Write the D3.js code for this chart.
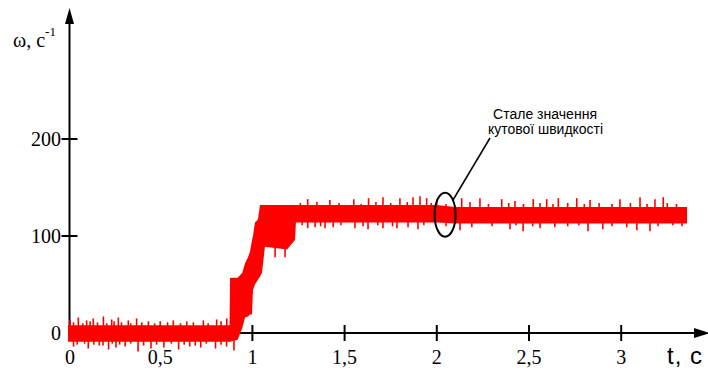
<!DOCTYPE html>
<html>
<head>
<meta charset="utf-8">
<script src="https://cdn.jsdelivr.net/npm/d3@7"></script>
<style>
  body { margin: 0; background: #fff; }
  svg { display: block; }
  .tick-label { font-family: "Liberation Serif", "Times New Roman", serif; font-size: 20px; fill: #000; }
</style>
</head>
<body>
<div id="chart"></div>
<script>
// tick values
const xTicks = [0, 0.5, 1, 1.5, 2, 2.5, 3];
const xTickLabels = ['0', '0,5', '1', '1,5', '2', '2,5', '3'];
const yTicks = [0, 100, 200];
const yTickLabels = ['0', '100', '200'];

// band of the noisy speed signal: time (s), upper and lower edge (1/s)
const envT  = [0, 0.876, 0.879, 0.92, 0.945, 0.96, 0.976, 0.987, 0.998, 1.003, 1.014, 1.030, 1.041, 1.052, 1.068, 1.188, 1.231, 1.236, 2.0, 2.1, 3.357];
const envHi = [8, 8, 57, 57, 62, 72, 78, 84, 96, 100, 114, 117, 132, 132, 132, 132, 132, 132, 132, 130, 130];
const envLo = [-9, -9, -9, -7, 5, 16, 17, 19, 19, 44, 50, 55, 58, 62, 89, 86, 96, 114, 114, 113, 113];

// spikes sticking out of the band (time, tip value)
const lowUpT = [0.011, 0.056, 0.101, 0.137, 0.192, 0.237, 0.273, 0.327, 0.372, 0.436, 0.50, 0.571, 0.644, 0.734, 0.806, 0.861,
  0.03, 0.08, 0.12, 0.16, 0.21, 0.25, 0.29, 0.34, 0.40, 0.47, 0.54, 0.61, 0.68, 0.76, 0.83];
const lowUpV = [14, 16, 13, 15, 17, 14, 16, 13, 15, 12, 12, 13, 12, 13, 14, 15,
  11, 10, 12, 11, 10, 12, 11, 10, 11, 10, 11, 10, 11, 10, 12];
const lowDnT = [0.03, 0.11, 0.17, 0.22, 0.26, 0.31, 0.38, 0.45, 0.52, 0.60, 0.66, 0.72, 0.80, 0.86, 0.90,
  0.05, 0.09, 0.14, 0.19, 0.24, 0.28, 0.34, 0.41, 0.48, 0.56, 0.63, 0.69, 0.75, 0.83];
const lowDnV = [-14, -16, -13, -17, -15, -14, -19, -16, -15, -17, -14, -15, -16, -14, -18,
  -12, -11, -12, -13, -11, -12, -11, -13, -12, -11, -12, -13, -11, -12];
const hiUpT = [1.30, 1.42, 1.55, 1.63, 1.708, 1.80, 1.871, 1.909, 1.945, 2.00, 2.135, 2.234, 2.352, 2.424, 2.523, 2.596, 2.659, 2.759, 2.831, 2.993, 3.102, 3.183, 3.228,
  1.26, 1.35, 1.47, 1.59, 1.67, 1.75, 1.84, 1.97, 2.05, 2.18, 2.28, 2.39, 2.47, 2.56, 2.63, 2.71, 2.80, 2.88, 2.95, 3.05, 3.14, 3.25, 3.30];
const hiUpV = [138, 137, 138, 139, 140, 139, 140, 141, 139, 138, 139, 139, 138, 136, 138, 138, 139, 139, 137, 138, 140, 138, 140,
  134, 135, 134, 133, 135, 134, 135, 134, 133, 135, 133, 134, 133, 134, 133, 134, 133, 134, 133, 134, 133, 134, 133];
const hiDnT = [1.123, 1.177, 1.30, 1.34, 1.394, 1.438, 1.556, 1.627, 1.708, 1.784, 1.844, 1.898, 2.126, 2.397, 2.468, 2.56, 2.82, 2.90, 3.085, 3.156,
  1.27, 1.37, 1.48, 1.60, 1.68, 1.76, 1.93, 2.05, 2.19, 2.30, 2.43, 2.52, 2.64, 2.71, 2.77, 2.95, 3.03, 3.20, 3.28, 3.33];
const hiDnV = [78, 78, 108, 109, 108, 109, 108, 107, 108, 108, 109, 107, 106, 107, 105, 108, 105, 107, 106, 105,
  111, 110, 111, 110, 111, 110, 111, 110, 109, 110, 111, 110, 109, 110, 111, 110, 109, 110, 111, 110];

const width = 708;
const height = 372;

const x = d3.scaleLinear().domain([0, 3]).range([68, 621.2]);
const y = d3.scaleLinear().domain([0, 200]).range([333, 139]);

const svg = d3.select('#chart').append('svg')
  .attr('width', width)
  .attr('height', height);

// axes
const axisColor = '#000';
svg.append('line')
  .attr('x1', x(0)).attr('x2', 700)
  .attr('y1', y(0)).attr('y2', y(0))
  .attr('stroke', axisColor).attr('stroke-width', 2);
svg.append('path')
  .attr('d', 'M694,' + (y(0) - 5) + 'L710,' + y(0) + 'L694,' + (y(0) + 5) + 'Z')
  .attr('fill', axisColor);

const yAxisX = x(0) + 1.5;
svg.append('line')
  .attr('x1', yAxisX).attr('x2', yAxisX)
  .attr('y1', y(0)).attr('y2', 20)
  .attr('stroke', axisColor).attr('stroke-width', 2);
svg.append('path')
  .attr('d', 'M' + (yAxisX - 4.5) + ',24L' + yAxisX + ',8L' + (yAxisX + 4.5) + ',24Z')
  .attr('fill', axisColor);

// x ticks
svg.append('g').selectAll('line')
  .data(xTicks.slice(1))
  .enter().append('line')
  .attr('x1', d => x(d)).attr('x2', d => x(d))
  .attr('y1', y(0) - 8).attr('y2', y(0) + 8)
  .attr('stroke', axisColor).attr('stroke-width', 2);
svg.append('g').selectAll('text')
  .data(xTicks)
  .enter().append('text')
  .attr('class', 'tick-label')
  .attr('x', d => x(d) + (d === 0 ? 2 : 0))
  .attr('y', 364)
  .attr('text-anchor', 'middle')
  .text((d, i) => xTickLabels[i]);

// y ticks
svg.append('g').selectAll('line')
  .data(yTicks.slice(1))
  .enter().append('line')
  .attr('x1', yAxisX - 8).attr('x2', yAxisX + 8)
  .attr('y1', d => y(d)).attr('y2', d => y(d))
  .attr('stroke', axisColor).attr('stroke-width', 2);
svg.append('g').selectAll('text')
  .data(yTicks)
  .enter().append('text')
  .attr('class', 'tick-label')
  .attr('x', 61)
  .attr('y', d => y(d) + 7)
  .attr('text-anchor', 'end')
  .text((d, i) => yTickLabels[i]);

// signal band, drawn over the axes like in the original plot
const band = envT.map((t, i) => ({ t: t, hi: envHi[i], lo: envLo[i] }));
const area = d3.area()
  .x(d => x(d.t))
  .y0(d => y(d.lo))
  .y1(d => y(d.hi));
svg.append('path')
  .datum(band)
  .attr('d', area)
  .attr('fill', '#ff0000');

function drawSpikes(ts, vs, base) {
  svg.append('g').selectAll('line')
    .data(ts.map((t, i) => ({ t: t, v: vs[i] })))
    .enter().append('line')
    .attr('x1', d => x(d.t))
    .attr('x2', d => x(d.t))
    .attr('y1', y(base))
    .attr('y2', d => y(d.v))
    .attr('stroke', '#ff0000')
    .attr('stroke-width', 1.6);
}
drawSpikes(lowUpT, lowUpV, 0);
drawSpikes(lowDnT, lowDnV, 0);
drawSpikes(hiUpT, hiUpV, 122);
drawSpikes(hiDnT, hiDnV, 122);

// axis titles
const yTitle = svg.append('text')
  .attr('x', 13)
  .attr('y', 47)
  .attr('font-family', '"Liberation Serif", "Times New Roman", serif')
  .attr('font-size', 20);
yTitle.append('tspan').text('ω, c');
yTitle.append('tspan')
  .attr('dy', -11)
  .attr('font-size', 13)
  .text('-1');

svg.append('text')
  .attr('x', 667)
  .attr('y', 364)
  .attr('font-family', '"Liberation Sans", Arial, sans-serif')
  .attr('font-size', 24)
  .attr('letter-spacing', 1)
  .text('t, c');

// annotation
svg.append('ellipse')
  .attr('cx', x(2.045)).attr('cy', y(122))
  .attr('rx', 10.5).attr('ry', 22)
  .attr('fill', 'none')
  .attr('stroke', axisColor).attr('stroke-width', 2);
svg.append('line')
  .attr('x1', 453).attr('y1', 200)
  .attr('x2', 490).attr('y2', 138)
  .attr('stroke', axisColor).attr('stroke-width', 1.5);
const note = svg.append('text')
  .attr('font-family', '"Liberation Sans", Arial, sans-serif')
  .attr('font-size', 14)
  .attr('text-anchor', 'middle');
note.append('tspan').attr('x', 545).attr('y', 119)
  .attr('textLength', 104).attr('lengthAdjust', 'spacingAndGlyphs')
  .text('Стале значення');
note.append('tspan').attr('x', 545.5).attr('y', 134)
  .attr('textLength', 115).attr('lengthAdjust', 'spacingAndGlyphs')
  .text('кутової швидкості');
</script>
</body>
</html>
